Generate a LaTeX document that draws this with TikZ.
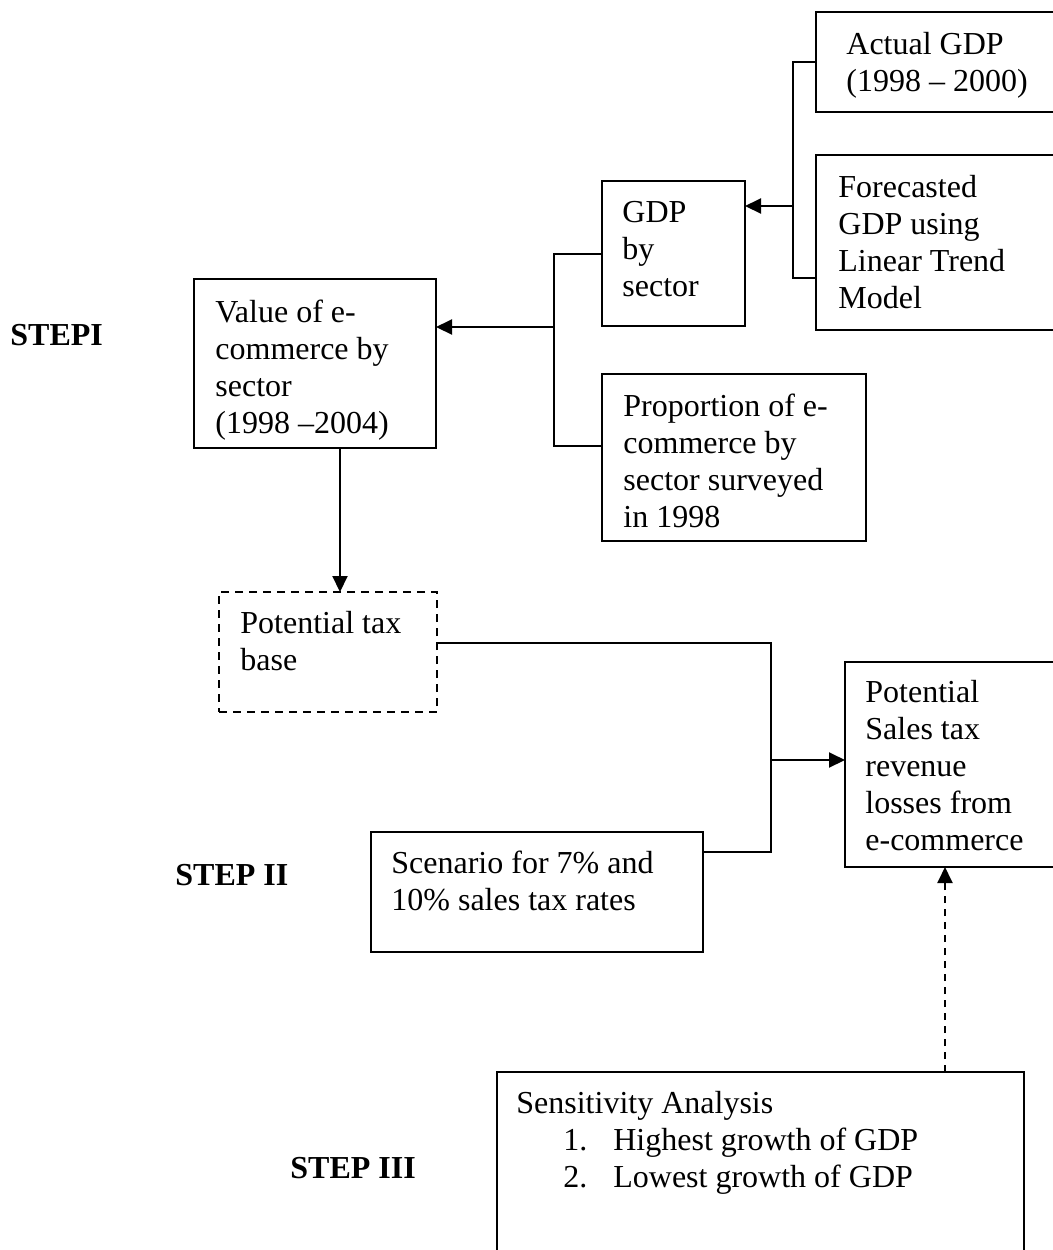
\documentclass[tikz,border=0pt]{standalone}
\usepackage{fontspec}
\setmainfont{Liberation Serif}
\usetikzlibrary{arrows.meta}
\begin{document}
\begin{tikzpicture}[x=0.5pt,y=-0.5pt,
  box/.style={draw=black,line width=1pt,rectangle,inner sep=0pt,outer sep=0pt,anchor=center},
  dbox/.style={box,dash pattern=on 4pt off 3pt},
  txt/.style={anchor=north west,align=left,inner sep=0pt,font=\fontsize{16pt}{18.5pt}\selectfont,execute at begin node=\strut},
  steplbl/.style={anchor=base west,inner sep=0pt,font=\fontsize{16pt}{18.5pt}\selectfont\bfseries},
  conn/.style={draw=black,line width=1pt},
  arr/.style={conn,-{Triangle[length=8pt,width=7.5pt]}},
  darr/.style={arr,dash pattern=on 3.5pt off 3pt}]
\useasboundingbox (0,0) rectangle (1053,1250);

% boxes
\node[box,minimum width=127pt,minimum height=50pt] (actual) at (943,62) {};
\node[box,minimum width=127pt,minimum height=87.5pt] (forecast) at (943,242.5) {};
\node[box,minimum width=71.5pt,minimum height=72.5pt] (gdp) at (673.5,253.5) {};
\node[box,minimum width=121pt,minimum height=84.5pt] (value) at (315,363.5) {};
\node[box,minimum width=132pt,minimum height=83.5pt] (prop) at (734,457.5) {};
\node[dbox,minimum width=109pt,minimum height=60pt] (base) at (328,652) {};
\node[box,minimum width=112.5pt,minimum height=102.5pt] (pot) at (957.5,764.5) {};
\node[box,minimum width=166pt,minimum height=60pt] (scen) at (537,892) {};
\node[box,minimum width=263.5pt,minimum height=99pt] (sens) at (760.5,1171) {};

% texts
\node[txt] (tactual) at (846,32) {Actual GDP\\(1998 -- 2000)};
\node[txt] (tforecast) at (838,175) {Forecasted\\GDP using\\Linear Trend\\Model};
\node[txt] (tgdp) at (622,201) {GDP\\by\\sector};
\node[txt] (tvalue) at (215,300) {Value of e-\\commerce by\\sector\\(1998 --2004)};
\node[txt] (tprop) at (623,394) {Proportion of e-\\commerce by\\sector surveyed\\in 1998};
\node[txt] (tbase) at (240,611) {Potential tax\\base};
\node[txt] (tpot) at (865,680) {Potential\\Sales tax\\revenue\\losses from\\e-commerce};
\node[txt] (tscen) at (391,851) {Scenario for 7\% and\\10\% sales tax rates};
\node[txt] (tsens) at (516,1091) {Sensitivity Analysis\\
  \hspace*{23.5pt}\makebox[25pt][l]{1.}Highest growth of GDP\\
  \hspace*{23.5pt}\makebox[25pt][l]{2.}Lowest growth of GDP};

\node[steplbl] (s1) at (10,345) {STEPI};
\node[steplbl] (s2) at (175,885) {STEP II};
\node[steplbl] (s3) at (290,1178) {STEP III};

% junction coordinates
\coordinate (j1) at (793,206);
\coordinate (j1b) at (793,278);
\coordinate (j2) at (554,327);
\coordinate (j2b) at (554,446);
\coordinate (j3) at (340,448);
\coordinate (j4t) at (771,643);
\coordinate (j4) at (771,760);
\coordinate (j4b) at (771,852);
\coordinate (j5) at (945,867);

% connectors
\draw[conn] (actual.west) -| (j1b) -- (forecast.west |- j1b);
\draw[arr] (j1) -- (gdp.east |- j1);
\draw[conn] (gdp.west) -| (j2b) -- (prop.west |- j2b);
\draw[arr] (j2) -- (value.east |- j2);
\draw[arr] (j3) -- (base.north -| j3);
\draw[conn] (base.east |- j4t) -- (j4t) -- (j4b) -- (scen.east |- j4b);
\draw[arr] (j4) -- (pot.west |- j4);
\draw[darr] (sens.north -| j5) -- (pot.south -| j5);
\end{tikzpicture}
\end{document}
